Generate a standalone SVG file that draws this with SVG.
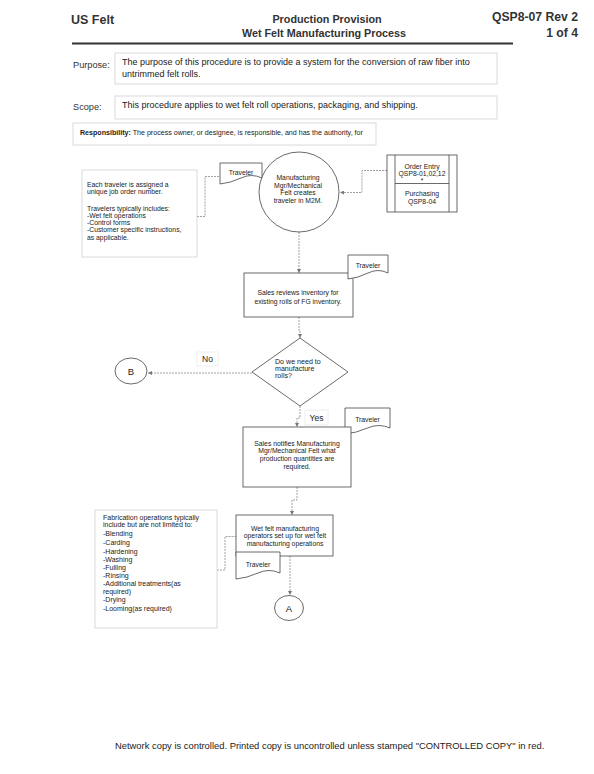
<svg xmlns="http://www.w3.org/2000/svg" width="594" height="774" viewBox="0 0 594 774">
<defs>
<style>
text{font-family:"Liberation Sans",Arial,sans-serif;fill:#222}
.hd{font-weight:bold;fill:#333}
.lbl{font-size:9.2px;fill:#333}
.body{font-size:9px}
.sm{font-size:6.8px}
.faint{fill:none;stroke:#cfcfcf;stroke-width:0.8}
.shape{fill:#fff;stroke:#444;stroke-width:0.8}
.conn{fill:none;stroke:#8a8a8a;stroke-width:0.8;stroke-dasharray:2,1}
.mid{text-anchor:middle}
</style>
<marker id="arr" viewBox="0 0 6 6" refX="6" refY="3" markerWidth="5" markerHeight="5" orient="auto">
<path d="M0,0 L6,3 L0,6 z" fill="#777"/>
</marker>
</defs>
<rect width="594" height="774" fill="#fff"/>

<g id="header">
<text x="71" y="24" class="hd" font-size="12.5">US Felt</text>
<text x="327" y="23" class="hd mid" font-size="10.8">Production Provision</text>
<text x="324" y="37" class="hd mid" font-size="10.8">Wet Felt Manufacturing Process</text>
<text x="578" y="21" class="hd" font-size="12.2" text-anchor="end">QSP8-07 Rev 2</text>
<text x="578" y="37" class="hd" font-size="12.2" text-anchor="end">1 of 4</text>
<line x1="72" y1="43.5" x2="513" y2="43.5" stroke="#333" stroke-width="2"/>
</g>

<g id="purpose">
<text x="73" y="68" class="lbl">Purpose:</text>
<rect x="115" y="53" width="382" height="31" class="faint"/>
<text x="122" y="64.5" class="body">The purpose of this procedure is to provide a system for the conversion of raw fiber into</text>
<text x="122" y="77" class="body">untrimmed felt rolls.</text>
</g>

<g id="scope">
<text x="73" y="110" class="lbl">Scope:</text>
<rect x="115" y="96" width="382" height="23" class="faint"/>
<text x="122" y="107.5" class="body">This procedure applies to wet felt roll operations, packaging, and shipping.</text>
</g>

<g id="responsibility">
<rect x="73" y="123" width="303" height="22" class="faint"/>
<text x="80" y="134.5" font-size="7.1"><tspan font-weight="bold">Responsibility:</tspan> The process owner, or designee, is responsible, and has the authority, for</text>
</g>

<g id="connectors">
<polyline class="conn" points="197,216.5 205,216.5 205,176.5 220,176.5"/>
<polyline class="conn" points="387,170.5 362,170.5 362,192.5 340,192.5" marker-end="url(#arr)"/>
<polyline class="conn" points="299,232 299,273" marker-end="url(#arr)"/>
<polyline class="conn" points="299,317 299,330 300,330 300,338" marker-end="url(#arr)"/>
<polyline class="conn" points="252,373 148,373" marker-end="url(#arr)"/>
<polyline class="conn" points="300,406 300,418 297,418 297,427" marker-end="url(#arr)"/>
<polyline class="conn" points="297,487 297,500 292,500 292,515" marker-end="url(#arr)"/>
<polyline class="conn" points="217,570 225,570 225,536.5 236,536.5"/>
<polyline class="conn" points="290,556 290,595" marker-end="url(#arr)"/>
</g>

<g id="note-traveler">
<rect x="82" y="170" width="115" height="87" class="faint"/>
<text x="87" y="186.5" class="sm">Each traveler is assigned a</text>
<text x="87" y="194" class="sm">unique job order number.</text>
<text x="87" y="210.5" class="sm">Travelers typically includes:</text>
<text x="87" y="218" class="sm">-Wet felt operations</text>
<text x="87" y="225" class="sm">-Control forms</text>
<text x="87" y="232.3" class="sm">-Customer specific instructions,</text>
<text x="87" y="239.5" class="sm">as applicable.</text>
</g>

<g id="create-traveler">
<circle cx="299" cy="192" r="40" class="shape"/>
<text x="298" y="180" class="sm mid">Manufacturing</text>
<text x="298" y="187.5" class="sm mid">Mgr/Mechanical</text>
<text x="298" y="195" class="sm mid">Felt creates</text>
<text x="298" y="202.5" class="sm mid">traveler in M2M.</text>
</g>

<g id="traveler-1">
<path d="M220,163 H262 V178 Q251.5,173 241,178 T220,184 Z" class="shape"/>
<text x="241" y="175" class="sm mid">Traveler</text>
</g>

<g id="order-entry">
<rect x="387" y="155" width="70" height="57" class="shape"/>
<line x1="395" y1="155" x2="395" y2="212" stroke="#444" stroke-width="0.8"/>
<line x1="449" y1="155" x2="449" y2="212" stroke="#444" stroke-width="0.8"/>
<line x1="395" y1="183.5" x2="449" y2="183.5" stroke="#444" stroke-width="0.8"/>
<text x="422" y="168.5" class="sm mid">Order Entry</text>
<text x="422" y="175.5" class="sm mid">QSP8-01,02,12</text>
<text x="422" y="183" class="sm mid">*</text>
<text x="422" y="196" class="sm mid">Purchasing</text>
<text x="422" y="203.5" class="sm mid">QSP8-04</text>
</g>

<g id="sales-reviews">
<rect x="244" y="273" width="109" height="44" class="shape"/>
<text x="298" y="295" class="sm mid">Sales reviews inventory for</text>
<text x="298" y="303.5" class="sm mid">existing rolls of FG inventory.</text>
</g>

<g id="traveler-2">
<path d="M348,255 H388 V273 Q378,268 368,273 T348,279 Z" class="shape"/>
<text x="368" y="268" class="sm mid">Traveler</text>
</g>

<g id="decision">
<polygon points="300,338 348,372 300,406 252,372" class="shape"/>
<text x="275" y="364" font-size="7.1">Do we need to</text>
<text x="275" y="371" font-size="7.1">manufacture</text>
<text x="275" y="378" font-size="7.1">rolls?</text>
</g>

<g id="label-no">
<rect x="197" y="352" width="21" height="14" fill="#fff" stroke="#e2e2e2" stroke-width="0.6"/>
<text x="207.5" y="362" font-size="8.5" class="mid" fill="#333">No</text>
</g>

<g id="connector-b">
<ellipse cx="131" cy="371" rx="16" ry="13" class="shape"/>
<text x="131" y="374.5" font-size="9.5" class="mid">B</text>
</g>

<g id="label-yes">
<rect x="305" y="410" width="23" height="15" fill="#fff" stroke="#e2e2e2" stroke-width="0.6"/>
<text x="316.5" y="420.5" font-size="8.5" class="mid" fill="#333">Yes</text>
</g>

<g id="traveler-3">
<path d="M345,408 H390 V428 Q378.75,423 367.5,428 T345,434 Z" class="shape"/>
<text x="367.5" y="421.5" class="sm mid">Traveler</text>
</g>

<g id="sales-notifies">
<rect x="243" y="427" width="108" height="60" class="shape"/>
<text x="297" y="445.5" class="sm mid">Sales notifies Manufacturing</text>
<text x="297" y="453.3" class="sm mid">Mgr/Mechanical Felt what</text>
<text x="297" y="461.3" class="sm mid">production quantities are</text>
<text x="297" y="469" class="sm mid">required.</text>
</g>

<g id="note-fabrication">
<rect x="95" y="510" width="122" height="118" class="faint"/>
<text x="103" y="519.5" font-size="7">Fabrication operations typically</text>
<text x="103" y="527.3" font-size="7">include but are not limited to:</text>
<text x="103" y="536.3" font-size="7">-Blending</text>
<text x="103" y="545" font-size="7">-Carding</text>
<text x="103" y="553.6" font-size="7">-Hardening</text>
<text x="103" y="561.6" font-size="7">-Washing</text>
<text x="103" y="570" font-size="7">-Fulling</text>
<text x="103" y="578" font-size="7">-Rinsing</text>
<text x="103" y="586.3" font-size="7">-Additional treatments(as</text>
<text x="103" y="594.3" font-size="7">required)</text>
<text x="103" y="602.3" font-size="7">-Drying</text>
<text x="103" y="610.6" font-size="7">-Looming(as required)</text>
</g>

<g id="wet-felt-setup">
<rect x="236" y="515" width="97" height="41" class="shape"/>
<text x="285" y="530.6" class="sm mid">Wet felt manufacturing</text>
<text x="285" y="538.3" class="sm mid">operators set up for wet felt</text>
<text x="285" y="545.6" class="sm mid">manufacturing operations</text>
</g>

<g id="traveler-4">
<path d="M236,552 H280 V573 Q269,568 258,573 T236,579 Z" class="shape"/>
<text x="258" y="566.5" class="sm mid">Traveler</text>
</g>

<g id="connector-a">
<ellipse cx="289" cy="608" rx="14.5" ry="12.5" class="shape"/>
<text x="289" y="611.5" font-size="9.5" class="mid">A</text>
</g>

<g id="footer">
<text x="115" y="748.5" font-size="9.4" fill="#333">Network copy is controlled. Printed copy is uncontrolled unless stamped "CONTROLLED COPY" in red.</text>
</g>
</svg>
